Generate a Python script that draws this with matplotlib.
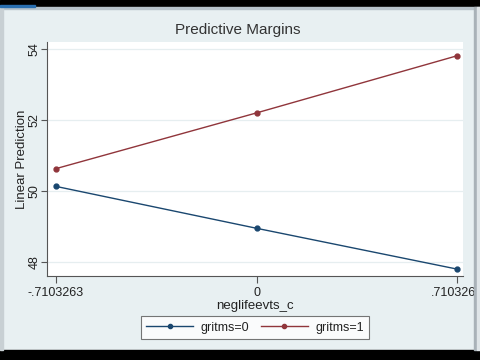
import matplotlib
matplotlib.use("Agg")
import matplotlib.pyplot as plt
from matplotlib.patches import Rectangle
from matplotlib.lines import Line2D

# Data
x_vals = [-0.7103263, 0.0, 0.7103263]
x_labels = ["-.7103263", "0", ".7103263"]
gritms0 = [50.13, 48.95, 47.80]
gritms1 = [50.63, 52.20, 53.81]
y_ticks = [48, 50, 52, 54]
series_names = ["gritms=0", "gritms=1"]

navy = "#1a476f"
maroon = "#90353b"
bg = "#e8f0f2"

plt.rcParams['font.family'] = ['Liberation Sans', 'DejaVu Sans']

W, H = 480, 360
fig = plt.figure(figsize=(4.8, 3.6), dpi=100)
fig.patch.set_facecolor(bg)

def px(x0, y0, x1, y1):
    return [x0 / W, 1 - y1 / H, (x1 - x0) / W, (y1 - y0) / H]

ax = fig.add_axes(px(47, 42, 463, 276))
ax.set_facecolor("white")
ax.plot(x_vals, gritms0, color=navy, lw=1.0, marker='o', ms=3.5, label=series_names[0], zorder=3)
ax.plot(x_vals, gritms1, color=maroon, lw=1.0, marker='o', ms=3.5, label=series_names[1], zorder=3)

ax.set_xlim(-0.742, 0.731)
ax.set_ylim(47.606, 54.197)
ax.set_xticks(x_vals)
ax.set_xticklabels(x_labels)
ax.set_yticks(y_ticks)
ax.set_yticklabels([str(v) for v in y_ticks], rotation=90, va='center')
for y in y_ticks:
    ax.axhline(y, color="#e6eef0", lw=0.9, zorder=1)

for s in ['top', 'right']:
    ax.spines[s].set_visible(False)
for s in ['left', 'bottom']:
    ax.spines[s].set_color("#555555")
    ax.spines[s].set_linewidth(0.8)
ax.tick_params(axis='both', direction='out', length=5, width=0.8, color="#555555",
               labelsize=9, labelcolor="#222222", pad=3)
ax.tick_params(axis='y', length=4.5, pad=0)

ax.set_xlabel("neglifeevts_c", fontsize=9.5, color="#222222", labelpad=1)
ax.set_ylabel("Linear Prediction", fontsize=9.5, color="#222222")
ax.yaxis.set_label_coords((28 - 47) / (463 - 47), 0.5)

fig.text(238 / W, 1 - 30 / H, "Predictive Margins", ha='center', va='center',
         fontsize=11, color="#333333")

handles = [Line2D([], [], color=navy, lw=1.0, marker='o', ms=3),
           Line2D([], [], color=maroon, lw=1.0, marker='o', ms=3)]
leg = fig.legend(handles, series_names, loc='center', bbox_to_anchor=(255 / W, 1 - 327.5 / H),
                 ncol=2, frameon=True, fancybox=False, fontsize=9, handlelength=3.7,
                 columnspacing=1.0, handletextpad=0.6, borderpad=0.45, borderaxespad=0)
leg.get_frame().set_edgecolor("#555555")
leg.get_frame().set_linewidth(0.8)
leg.get_frame().set_facecolor("white")
for t in leg.get_texts():
    t.set_color("#222222")

# window chrome of the screenshot
fig.patches.append(Rectangle((0, 1 - 7 / H), 1, 7 / H, transform=fig.transFigure,
                             color="black", zorder=10))
fig.patches.append(Rectangle((0, 1 - 7 / H), 35 / W, 2 / H, transform=fig.transFigure,
                             color="#2a6fb0", zorder=11))
fig.patches.append(Rectangle((0, 1 - 9 / H), 1, 2 / H, transform=fig.transFigure,
                             color="#b8c4cc", zorder=10))
fig.patches.append(Rectangle((0, 0), 1, 10 / H, transform=fig.transFigure,
                             color="black", zorder=10))
fig.patches.append(Rectangle((0, 10 / H), 3 / W, 1 - 17 / H, transform=fig.transFigure,
                             color="#c8d0d4", zorder=10))
fig.patches.append(Rectangle((474 / W, 10 / H), 3 / W, 1 - 17 / H, transform=fig.transFigure,
                             color="#a9b2b8", zorder=10))
fig.patches.append(Rectangle((477 / W, 10 / H), 3 / W, 1 - 17 / H, transform=fig.transFigure,
                             color="#dfe5e8", zorder=10))

fig.savefig("out.png", dpi=100, facecolor=fig.get_facecolor())
